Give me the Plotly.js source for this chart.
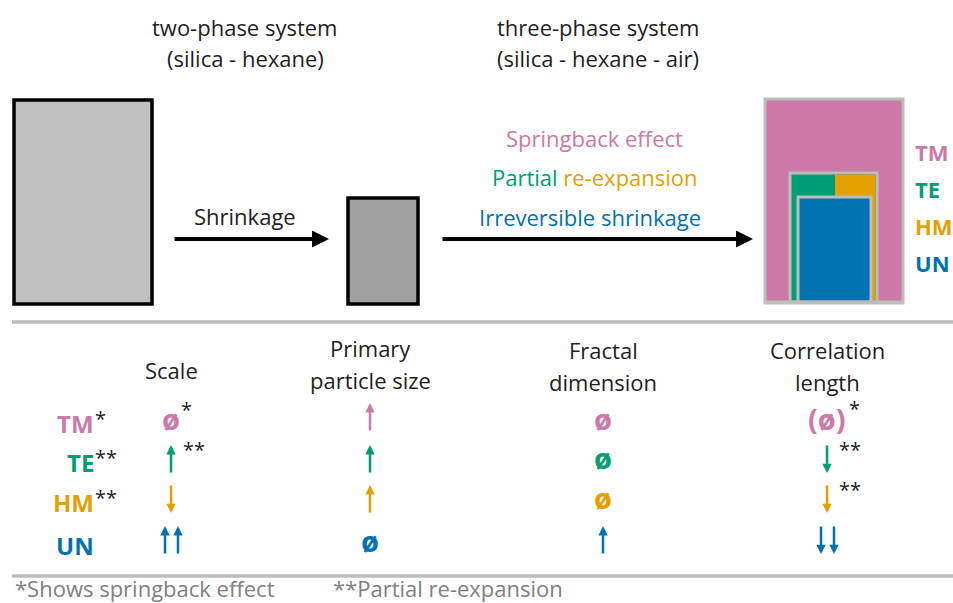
<!DOCTYPE html>
<html>
<head>
<meta charset="utf-8">
<script src="https://cdn.plot.ly/plotly-3.0.1.min.js"></script>
<style>html,body{margin:0;padding:0;background:#fff;}#chart{width:953px;height:603px;}</style>
</head>
<body>
<div id="chart"></div>
<script>
// ---------- data ----------
const stageTitles = [['two-phase system', '(silica - hexane)'], ['three-phase system', '(silica - hexane - air)']];
const processLabel = 'Shrinkage';
const mechanisms = ['Springback effect', 'Partial', 're-expansion', 'Irreversible shrinkage'];
const samples = ['TM', 'TE', 'HM', 'UN'];
const sampleColors = ['#cc79a7', '#009e73', '#e69f00', '#0072b2'];
const sampleMarks = ['*', '**', '**', ''];
const columns = [['Scale'], ['Primary', 'particle size'], ['Fractal', 'dimension'], ['Correlation', 'length']];
const scaleEffect = ['ø', 'up', 'down', 'upup'];
const primaryEffect = ['up', 'up', 'up', 'ø'];
const fractalEffect = ['ø', 'ø', 'ø', 'up'];
const correlationEffect = ['(ø)', 'down', 'down', 'downdown'];
const scaleNotes = ['*', '**', '', ''];
const primaryNotes = ['', '', '', ''];
const fractalNotes = ['', '', '', ''];
const correlationNotes = ['*', '**', '**', ''];
const footnotes = ['*Shows springback effect', '**Partial re-expansion'];

// ---------- layout helpers ----------
const FONT = 'Open Sans, Lato, sans-serif';
const DARK = '#1e1e1e';
const GRAY = '#bdbdbd';
const ann = [];
const shapes = [];
function txt(x, y, text, size, color, opts, weight) {
  ann.push(Object.assign({x: x, y: y, xref: 'x', yref: 'y', text: text, showarrow: false,
    xanchor: 'center', yanchor: 'middle', borderpad: 0, borderwidth: 0,
    font: {family: FONT, size: size, color: color, weight: weight || 'normal'}}, opts || {}));
}
function arrow(x, yHead, yTail, color, width, size) {
  ann.push({x: x, y: yHead, ax: x, ay: yTail, xref: 'x', yref: 'y', axref: 'x', ayref: 'y',
    text: '', showarrow: true, arrowhead: 2, arrowsize: size, arrowwidth: width, arrowcolor: color, standoff: 0});
}
function harrow(x0, x1, y, color, width, size) {
  ann.push({x: x1, y: y, ax: x0, ay: y, xref: 'x', yref: 'y', axref: 'x', ayref: 'y',
    text: '', showarrow: true, arrowhead: 2, arrowsize: size, arrowwidth: width, arrowcolor: color, standoff: 0});
}
function rect(x0, y0, x1, y1, fill, line, lw) {
  shapes.push({type: 'rect', xref: 'x', yref: 'y', x0: x0, y0: y0, x1: x1, y1: y1,
    fillcolor: fill, line: {color: line, width: lw}});
}
function hline(x0, x1, y, color, w) {
  shapes.push({type: 'line', xref: 'x', yref: 'y', x0: x0, x1: x1, y0: y, y1: y, line: {color: color, width: w}});
}

// ---------- top part ----------
const titleX = [245, 598];
stageTitles.forEach((lines, i) => {
  txt(titleX[i], 27, lines[0], 22, DARK);
  txt(titleX[i], 58, lines[1], 22, DARK);
});
rect(14, 100, 152, 304, '#c0c0c0', '#000', 3.5);
rect(348, 198, 418, 304, '#a0a0a0', '#000', 3.5);
harrow(173, 329, 239, '#000', 4, 0.85);
txt(245, 216, processLabel, 22, DARK);
harrow(441, 753, 239, '#000', 4, 0.85);
txt(594, 138, mechanisms[0], 22, sampleColors[0]);
txt(595, 177, '<span style="color:' + sampleColors[1] + '">' + mechanisms[1] + '</span> ' + mechanisms[2], 22, sampleColors[2]);
txt(590, 217, mechanisms[3], 22, sampleColors[3]);

// nested boxes
rect(765, 99, 903, 303, sampleColors[0], GRAY, 3);
rect(790, 173, 877, 302, sampleColors[1], GRAY, 3);
shapes.push({type: 'rect', xref: 'x', yref: 'y', x0: 835, x1: 875.5, y0: 174.5, y1: 300.5, fillcolor: sampleColors[2], line: {width: 0}});
rect(798, 197, 871, 302, sampleColors[3], GRAY, 3);
hline(765, 903, 302, GRAY, 3);
const boxLabelY = [152, 189, 226, 263];
samples.forEach((s, i) => txt(915, boxLabelY[i], s, 22, sampleColors[i], {xanchor: 'left'}, 'bold'));

// separators
hline(12, 953, 322, GRAY, 3.5);
hline(12, 953, 576, GRAY, 3.5);

// ---------- table ----------
const colX = [171, 370, 603, 827];
const headerY = [[370], [348, 380], [350, 382], [350, 382]];
columns.forEach((lines, c) => lines.forEach((l, k) => txt(colX[c], headerY[c][k], l, 22, DARK)));
const rowY = [423, 462, 502, 545];
const arrowMid = [417, 459, 499, 540];
samples.forEach((s, i) => {
  txt(94, rowY[i], s, 24, sampleColors[i], {xanchor: 'right'}, 'bold');
  if (sampleMarks[i]) txt(95, rowY[i] - 5, sampleMarks[i], 20, DARK, {xanchor: 'left'});
});
const effects = [scaleEffect, primaryEffect, fractalEffect, correlationEffect];
const notes = [scaleNotes, primaryNotes, fractalNotes, correlationNotes];
effects.forEach((col, c) => {
  col.forEach((e, r) => {
    const x = colX[c], y = rowY[r], m = arrowMid[r], color = sampleColors[r];
    let right = x + 12, ny = m - 10;
    if (e === 'ø') {
      txt(x, y - 5, 'ø', 29, color, {}, 'bold');
      right = x + 10; ny = y - 14;
    } else if (e === '(ø)') {
      txt(x, y - 5, '(ø)', 29, color, {}, 'bold');
      right = x + 22; ny = y - 15;
    } else if (e === 'up') {
      arrow(x, m - 14, m + 15, color, 2.5, 0.75);
    } else if (e === 'down') {
      arrow(x, m + 14, m - 15, color, 2.5, 0.75);
    } else if (e === 'upup') {
      arrow(x - 6, m - 14, m + 15, color, 2.5, 0.75);
      arrow(x + 7, m - 14, m + 15, color, 2.5, 0.75);
    } else if (e === 'downdown') {
      arrow(x - 6, m + 14, m - 15, color, 2.5, 0.75);
      arrow(x + 7, m + 14, m - 15, color, 2.5, 0.75);
    }
    const n = notes[c][r];
    if (n) txt(right, ny, n, 20, DARK, {xanchor: 'left'});
  });
});

// footnotes
txt(15, 603, footnotes[0], 22, '#808080', {xanchor: 'left', yanchor: 'bottom'});
txt(333, 603, footnotes[1], 22, '#808080', {xanchor: 'left', yanchor: 'bottom'});

// ---------- plot ----------
const layout = {
  width: 953, height: 603,
  margin: {l: 0, r: 0, t: 0, b: 0},
  paper_bgcolor: '#fff', plot_bgcolor: '#fff',
  xaxis: {range: [0, 953], visible: false, fixedrange: true},
  yaxis: {range: [603, 0], visible: false, fixedrange: true},
  showlegend: false,
  shapes: shapes,
  annotations: ann
};
Plotly.newPlot('chart', [{x: [0], y: [0], mode: 'markers', marker: {opacity: 0}, hoverinfo: 'skip'}], layout, {displayModeBar: false, staticPlot: true});
</script>
</body>
</html>
